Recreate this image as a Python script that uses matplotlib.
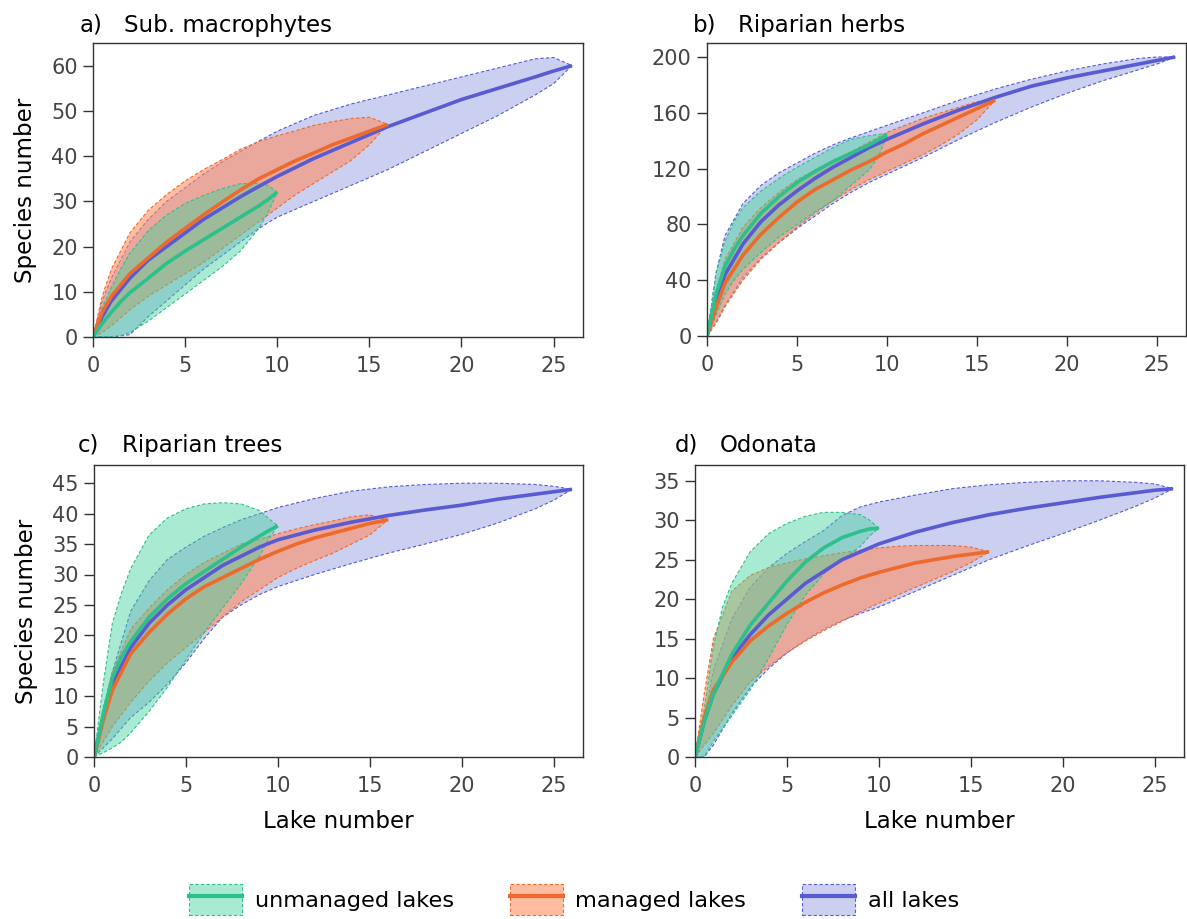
import matplotlib
matplotlib.use("Agg")
import matplotlib.pyplot as plt
from matplotlib.patches import Patch
from matplotlib.lines import Line2D

plt.rcParams['font.family'] = ['DejaVu Sans']

# lake number grids for each group
g_x = [0, 0.5, 1, 1.5, 2, 3, 4, 5, 6, 7, 8, 9, 9.5, 10]
o_x = [0, 0.5, 1, 2, 3, 4, 5, 6, 7, 8, 9, 10, 11, 12, 13, 14, 15, 16]
b_x = [0, 0.5, 1, 2, 3, 4, 5, 6, 7, 8, 9, 10, 12, 14, 16, 18, 20, 22, 24, 25, 26]

# a) Sub. macrophytes
a_green_mean = [0, 3, 5.5, 7.8, 9.8, 13, 16.3, 19, 21.5, 24, 26.5, 29, 30.4, 32]
a_green_hi = [0, 6.5, 11, 15, 18.5, 23.5, 27, 29.5, 31.3, 32.8, 33.9, 34, 33.5, 32]
a_green_lo = [0, 0, 0, 0.3, 1, 3.5, 6.5, 9.5, 12.5, 15.5, 19, 24, 27.5, 32]
a_orange_mean = [0, 5.5, 9, 14, 17.5, 21, 24, 27, 29.8, 32.5, 35, 37, 39, 40.7, 42.5, 44, 45.5, 47]
a_orange_hi = [0, 9, 15, 23, 28, 31.5, 34.5, 37, 39.2, 41.5, 43.2, 44.5, 45.6, 46.8, 47.6, 48.3, 48.6, 47]
a_orange_lo = [0, 1, 2.5, 6, 9, 11.5, 14, 16.5, 19.5, 22.5, 25.5, 28.5, 31.5, 34, 36.5, 39, 42.5, 47]
a_all_mean = [0, 4.5, 8, 13, 17, 20, 23, 26, 28.5, 31, 33.3, 35.5, 39.5, 43, 46.5, 49.5, 52.5, 55, 57.5, 58.8, 60]
a_all_hi = [0, 8, 13, 21, 26, 30, 33, 36, 38.7, 41, 43.3, 45.5, 49, 51.5, 53.5, 55.5, 57.5, 59.5, 61.5, 61.8, 60]
a_all_lo = [0, 0, 0, 0.5, 4.5, 8, 11.5, 15, 18, 21, 24, 26.5, 30, 33.5, 37, 41, 45, 49, 53.5, 56, 60]

# b) Riparian herbs
b_green_mean = [0, 30, 50, 62, 72, 88, 100, 110, 118, 125, 131, 137, 140.5, 144]
b_green_hi = [0, 45, 68, 82, 92, 104, 113, 121, 128, 135, 141, 143.5, 144.5, 145]
b_green_lo = [0, 15, 30, 40, 48, 60, 71, 80, 89, 97, 108, 119, 128, 144]
b_orange_mean = [0, 20, 38, 58, 73, 85, 96, 105, 112, 119, 125, 132, 138, 145, 151, 157, 163, 169]
b_orange_hi = [0, 32, 55, 78, 92, 103, 112, 119, 126, 132, 139, 146, 151, 156, 160, 164, 168, 169]
b_orange_lo = [0, 9, 21, 40, 55, 67, 78, 88, 97, 105, 112, 118, 124, 130, 137, 145, 155, 169]
b_all_mean = [0, 25, 44, 66, 82, 94, 104, 113, 121, 128, 135, 141, 152, 162, 171, 179, 185, 190, 195, 197.5, 200]
b_all_hi = [0, 45, 72, 95, 108, 117, 124, 131, 137, 142, 146.5, 151, 160, 169, 177, 184, 190, 195, 199, 200, 200]
b_all_lo = [0, 10, 22, 42, 56, 67, 77, 86, 95, 103, 110, 116, 128, 141, 153, 164, 174, 183, 191, 195, 200]

# c) Riparian trees
c_green_mean = [0, 7, 13, 16.5, 19, 23, 26, 28.5, 30.5, 32.5, 34.5, 36.3, 37.2, 38]
c_green_hi = [0, 12, 22, 27, 31, 36.5, 39.3, 40.8, 41.6, 41.8, 41.6, 40.5, 39.2, 38]
c_green_lo = [0, 0.7, 1.5, 2.5, 4, 7.5, 11.5, 16, 20.5, 24.5, 28.5, 33, 35.8, 38]
c_orange_mean = [0, 6, 11, 17, 20.5, 23.5, 26, 28, 29.5, 31, 32.5, 33.8, 35, 36, 36.8, 37.6, 38.4, 39]
c_orange_hi = [0, 7.5, 14, 21, 24.5, 27.5, 30, 32, 33.5, 35, 35.8, 36.7, 37.5, 38.2, 38.8, 39.5, 39.8, 39]
c_orange_lo = [0, 2.5, 5, 9, 12.5, 15.5, 18, 20.5, 23, 25.5, 27.5, 29.5, 31, 32.3, 33.5, 35, 36.5, 39]
c_all_mean = [0, 6.5, 12, 18, 22, 25, 27.5, 29.5, 31.5, 33, 34.5, 35.7, 37.3, 38.6, 39.7, 40.6, 41.4, 42.4, 43.2, 43.6, 44]
c_all_hi = [0, 8, 14, 24, 29, 32.5, 34.5, 36.3, 37.7, 39, 40, 41, 42.5, 43.7, 44.4, 44.8, 45, 45, 44.8, 44.5, 44]
c_all_lo = [0, 1.5, 3, 6.5, 9, 12, 15.5, 19.5, 23, 25, 26.7, 28, 30, 31.8, 33.5, 35, 36.6, 38.5, 40.8, 42.2, 44]

# d) Odonata
d_green_mean = [0, 4.5, 8, 10.5, 13, 16.7, 19.5, 22.3, 24.7, 26.5, 27.8, 28.6, 28.9, 29]
d_green_hi = [0, 6, 14, 19, 22, 26, 28.3, 29.6, 30.5, 31, 31, 30.7, 30, 29]
d_green_lo = [0, 0, 2, 3.6, 5.2, 8.5, 12.5, 16.8, 20.5, 23.2, 25, 26.7, 28, 29]
d_orange_mean = [0, 5, 8.5, 12, 14.7, 16.6, 18.2, 19.6, 20.8, 21.8, 22.7, 23.4, 24, 24.6, 25, 25.4, 25.7, 26]
d_orange_hi = [0, 8, 15, 21, 23, 24, 24.6, 25.1, 25.5, 25.9, 26.2, 26.5, 26.7, 26.8, 26.8, 26.8, 26.6, 26]
d_orange_lo = [0, 1.5, 3, 6.5, 9.5, 11.5, 13.2, 14.7, 16, 17.2, 18.4, 19.5, 20.5, 21.5, 22.5, 23.5, 24.6, 26]
d_all_mean = [0, 4.5, 8, 12.5, 15.5, 18, 20, 22, 23.5, 25, 26, 27, 28.5, 29.7, 30.7, 31.5, 32.2, 32.9, 33.5, 33.8, 34]
d_all_hi = [0, 5, 11, 17.5, 21.5, 24, 25.8, 27.3, 28.7, 30.6, 31.7, 32.3, 33.2, 34, 34.5, 34.8, 35, 35, 34.8, 34.6, 34]
d_all_lo = [0, 0, 1.5, 5.5, 8.8, 11.2, 13.2, 14.8, 16.2, 17.3, 18.2, 19, 21, 23, 25, 26.7, 28.3, 30, 31.8, 32.8, 34]

labels = ["unmanaged lakes", "managed lakes", "all lakes"]
line_cols = ["#2ec08c", "#ee6a2c", "#5a5ad2"]
fill_cols = [(0.26, 0.83, 0.61, 0.45), (1.0, 0.55, 0.37, 0.58), (0.42, 0.48, 0.85, 0.35)]

panels = [
    ("a)", "Sub. macrophytes", [0, 10, 20, 30, 40, 50, 60], 65,
     (a_green_mean, a_green_lo, a_green_hi), (a_orange_mean, a_orange_lo, a_orange_hi),
     (a_all_mean, a_all_lo, a_all_hi)),
    ("b)", "Riparian herbs", [0, 40, 80, 120, 160, 200], 210,
     (b_green_mean, b_green_lo, b_green_hi), (b_orange_mean, b_orange_lo, b_orange_hi),
     (b_all_mean, b_all_lo, b_all_hi)),
    ("c)", "Riparian trees", [0, 5, 10, 15, 20, 25, 30, 35, 40, 45], 48,
     (c_green_mean, c_green_lo, c_green_hi), (c_orange_mean, c_orange_lo, c_orange_hi),
     (c_all_mean, c_all_lo, c_all_hi)),
    ("d)", "Odonata", [0, 5, 10, 15, 20, 25, 30, 35], 37,
     (d_green_mean, d_green_lo, d_green_hi), (d_orange_mean, d_orange_lo, d_orange_hi),
     (d_all_mean, d_all_lo, d_all_hi)),
]

W, H = 1187, 919
# axes boxes in pixels: left, top, right, bottom
boxes = [(93, 43, 583, 337), (707, 43, 1186, 336), (94, 465, 583, 757), (695, 465, 1184, 757)]
# title positions in pixels: tag x, name x, baseline y
title_pos = [(80, 124, 32), (693, 738, 32), (78, 122, 452), (675, 720, 452)]

fig = plt.figure(figsize=(W / 100, H / 100), dpi=100)

for i, (tag, name, yt, ymax, gr, orr, al) in enumerate(panels):
    l, t, r, b = boxes[i]
    ax = fig.add_axes([l / W, 1 - b / H, (r - l) / W, (b - t) / H])
    # all lakes first, then managed, then unmanaged on top
    for xs, (m, lo, hi), k in [(b_x, al, 2), (o_x, orr, 1), (g_x, gr, 0)]:
        ax.fill_between(xs, lo, hi, facecolor=fill_cols[k], edgecolor=line_cols[k],
                        linestyle=(0, (3, 2)), linewidth=0.8)
        ax.plot(xs, m, color=line_cols[k], lw=2.6, solid_capstyle='butt')
    ax.set_xlim(0, 26.6)
    ax.set_ylim(0, ymax)
    ax.set_xticks([0, 5, 10, 15, 20, 25])
    ax.set_yticks(yt)
    for s in ax.spines.values():
        s.set_color('#333333')
        s.set_linewidth(1.0)
    ax.tick_params(direction='out', length=7, width=1, color='#333333',
                   labelsize=15, labelcolor='#444444', pad=4)
    ax.tick_params(axis='x', pad=7)
    tx, nx, ty = title_pos[i]
    fig.text(tx / W, 1 - ty / H, tag, fontsize=16.5, ha='left', va='baseline')
    fig.text(nx / W, 1 - ty / H, name, fontsize=16.5, ha='left', va='baseline')
    if i in (0, 2):
        ax.set_ylabel("Species number", fontsize=16.5, labelpad=10)
    if i in (2, 3):
        ax.set_xlabel("Lake number", fontsize=16.5, labelpad=10)

handles = []
for k in range(3):
    p = Patch(facecolor=fill_cols[k], edgecolor=line_cols[k], linestyle=(0, (3, 2)), linewidth=0.8)
    ln = Line2D([], [], color=line_cols[k], lw=3)
    handles.append((p, ln))

fig.legend(handles, labels, loc='lower center', bbox_to_anchor=(0.4836, -0.018), ncol=3,
           frameon=False, fontsize=16.2, handlelength=2.35, handleheight=1.75,
           handletextpad=0.55, columnspacing=2.5)

fig.savefig("out.png", dpi=100)
